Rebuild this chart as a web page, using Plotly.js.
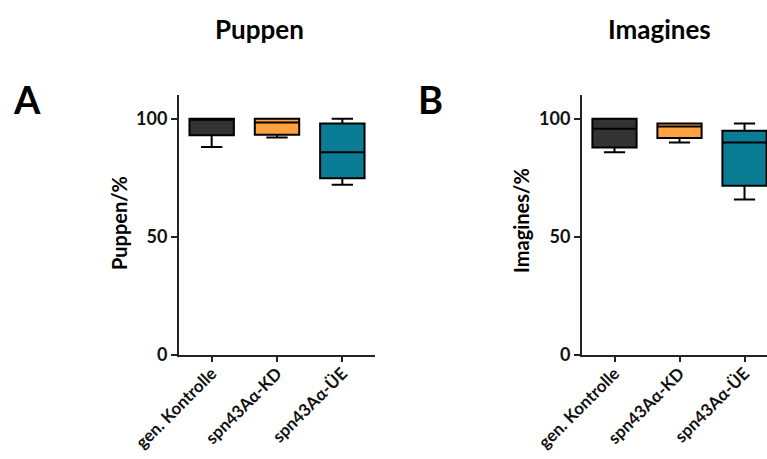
<!DOCTYPE html>
<html><head><meta charset="utf-8">
<script src="https://cdn.plot.ly/plotly-3.0.1.min.js"></script>
<style>html,body{margin:0;padding:0;overflow:hidden;background:#fff}#c{width:767px;height:459px}</style>
</head><body><div id="c"></div>
<script>
const categories = ["gen. Kontrolle", "spn43Aα-KD", "spn43Aα-ÜE"];
const colors = ["#333333", "#ffa23f", "#0a7c94"];
// Puppen (panel A)
const pupLow    = [88, 92, 72];
const pupQ1     = [93, 93.2, 74.8];
const pupMedian = [100, 98.4, 85.8];
const pupQ3     = [100, 100, 97.9];
const pupHigh   = [100, 100, 100];
// Imagines (panel B)
const imaLow    = [85.8, 89.9, 65.8];
const imaQ1     = [87.8, 91.8, 71.6];
const imaMedian = [95.7, 96.7, 89.9];
const imaQ3     = [100, 97.9, 94.9];
const imaHigh   = [100, 97.9, 97.9];

const FONT = "Lato, 'Open Sans', sans-serif";
const traces = [];
function addPanel(low,q1,med,q3,high,xa,ya){
  for(let i=0;i<categories.length;i++){
    traces.push({type:"box", x:[categories[i]], q1:[q1[i]], median:[med[i]], q3:[q3[i]],
      lowerfence:[low[i]], upperfence:[high[i]], xaxis:xa, yaxis:ya,
      fillcolor:colors[i], line:{color:"#000", width:2}, width:0.68, whiskerwidth:0.48,
      boxpoints:false, showlegend:false, hoverinfo:"skip"});
  }
}
addPanel(pupLow,pupQ1,pupMedian,pupQ3,pupHigh,"x","y");
addPanel(imaLow,imaQ1,imaMedian,imaQ3,imaHigh,"x2","y2");

const yb = (459-355)/459, yt = (459-95)/459;
const xaxisBase = {type:"category", showline:true, linecolor:"#222", linewidth:2, ticks:"outside",
  ticklen:5, tickwidth:2, tickcolor:"#222", tickangle:-45, ticklabelstandoff:-5, showgrid:false, zeroline:false,
  tickfont:{family:FONT, size:17, color:"#111", weight:"bold"}, fixedrange:true};
const yaxisBase = {range:[0,110], tickvals:[0,50,100], showline:true, linecolor:"#222", linewidth:2,
  ticks:"outside", ticklen:6, tickwidth:2, tickcolor:"#222", showgrid:false, zeroline:false,
  tickfont:{family:FONT, size:18, color:"#111", weight:"bold"}, domain:[yb,yt]};

function ann(text, x, y, size, angle){
  return {text:"<b>"+text+"</b>", x:x/767, y:1-y/459, xref:"paper", yref:"paper", showarrow:false,
    xanchor:"center", yanchor:"middle", textangle:angle||0, font:{family:FONT,size:size,color:"#000"}};
}
const layout = {
  width:767, height:459, margin:{l:0,r:0,t:0,b:0}, paper_bgcolor:"#fff", plot_bgcolor:"#fff",
  showlegend:false, boxmode:"overlay",
  xaxis:Object.assign({}, xaxisBase, {domain:[179/767, 375/767], range:[-0.5,2.5], anchor:"y"}),
  yaxis:Object.assign({}, yaxisBase, {anchor:"x"}),
  xaxis2:Object.assign({}, xaxisBase, {domain:[582/767, 1], range:[-0.5,2.346], anchor:"y2"}),
  yaxis2:Object.assign({}, yaxisBase, {anchor:"x2"}),
  annotations:[
    ann("Puppen", 259, 29, 26),
    ann("Imagines", 659, 29, 26),
    ann("A", 27, 99, 38),
    ann("B", 430, 99, 38),
    ann("Puppen/%", 119, 223, 20, -90),
    ann("Imagines/%", 521, 221, 20, -90)
  ]
};
Plotly.newPlot("c", traces, layout, {staticPlot:true, displayModeBar:false});
</script></body></html>
